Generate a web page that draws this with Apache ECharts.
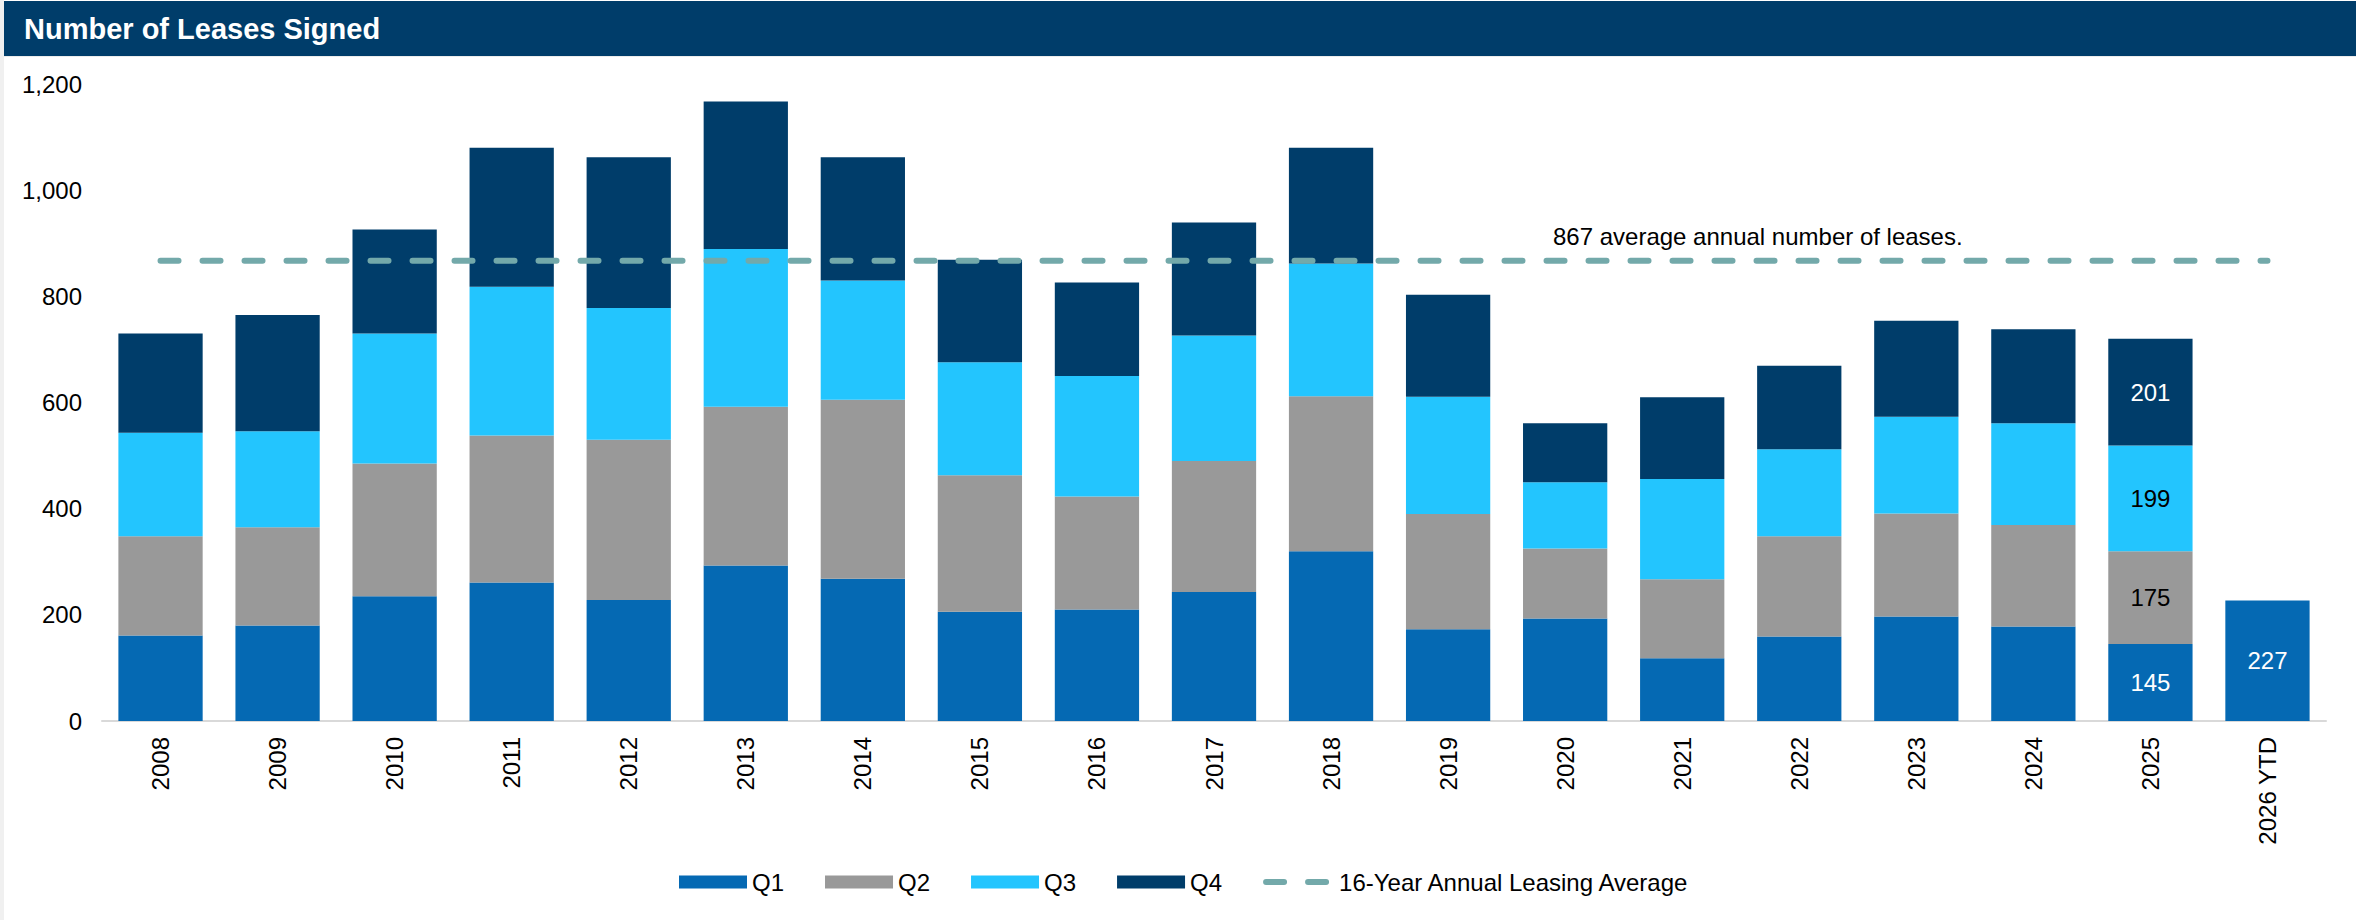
<!DOCTYPE html>
<html>
<head>
<meta charset="utf-8">
<title>Number of Leases Signed</title>
<script src="https://cdn.jsdelivr.net/npm/echarts@6/dist/echarts.min.js"></script>
<style>
  html, body { margin: 0; padding: 0; background: #fff; }
  #chart { width: 2356px; height: 920px; }
</style>
</head>
<body>
<div id="chart"></div>
<script>
// values
var years = ['2008', '2009', '2010', '2011', '2012', '2013', '2014', '2015', '2016', '2017',
             '2018', '2019', '2020', '2021', '2022', '2023', '2024', '2025', '2026 YTD']
var q1 = [161, 180, 235, 261, 228, 293, 268, 206, 210, 243, 320, 173, 193, 118, 159, 197, 178, 145, 227]
var q2 = [187, 185, 250, 277, 302, 299, 337, 257, 213, 247, 292, 217, 132, 149, 189, 194, 191, 175, null]
var q3 = [195, 181, 245, 280, 248, 297, 225, 213, 227, 236, 250, 221, 125, 189, 164, 182, 192, 199, null]
var q4 = [187, 219, 196, 262, 284, 278, 232, 193, 176, 213, 218, 192, 111, 154, 157, 181, 177, 201, null]
var avgLine = [['2008', 867], ['2026 YTD', 867]]
var yTicks = { min: 0, max: 1200, interval: 200 }
var labeledYears = ['2025', '2026 YTD']

var font = "'Liberation Sans', Arial, sans-serif"
var avgDash = { color: '#73a9aa', width: 6, type: [18, 24], cap: 'round' }

// only the last two bars carry value labels
function withLabels (arr) {
  return arr.map(function (v, i) {
    if (labeledYears.indexOf(years[i]) >= 0 && v != null) {
      return { value: v, label: { show: true } }
    }
    return v
  })
}

function barSeries (name, data, color, labelColor) {
  return {
    name: name,
    type: 'bar',
    stack: 'leases',
    barCategoryGap: '28%',
    data: withLabels(data),
    itemStyle: { color: color },
    label: {
      show: false,
      position: 'inside',
      color: labelColor,
      fontSize: 24,
      fontFamily: font
    },
    emphasis: { disabled: true }
  }
}

var myChart = echarts.init(document.getElementById('chart'), null, { renderer: 'svg' })

myChart.setOption({
  animation: false,
  textStyle: { fontFamily: font, color: '#000' },
  graphic: [
    { type: 'rect', shape: { x: 0, y: 0, width: 4, height: 920 }, style: { fill: '#f0f0f0' } },
    { type: 'rect', shape: { x: 4, y: 1, width: 2352, height: 55 }, style: { fill: '#003d6a' } },
    { type: 'rect', shape: { x: 4, y: 56, width: 2352, height: 1 }, style: { fill: '#ececec' } },
    {
      type: 'text', x: 24, y: 29,
      style: {
        text: 'Number of Leases Signed', fill: '#fff',
        font: 'bold 29px ' + font, textVerticalAlign: 'middle'
      }
    },
    {
      type: 'text', x: 1553, y: 236,
      style: {
        text: '867 average annual number of leases.', fill: '#000',
        font: '24px ' + font, textVerticalAlign: 'middle'
      }
    }
  ],
  grid: { left: 102, right: 30, top: 84, bottom: 199 },
  legend: {
    left: 679,
    top: 870,
    padding: 0,
    itemWidth: 68,
    itemHeight: 13,
    itemGap: 41,
    textStyle: { fontSize: 24, fontFamily: font, color: '#000' },
    data: [
      { name: 'Q1', icon: 'rect' },
      { name: 'Q2', icon: 'rect' },
      { name: 'Q3', icon: 'rect' },
      { name: 'Q4', icon: 'rect' },
      {
        name: '16-Year Annual Leasing Average',
        itemStyle: { opacity: 0 },
        lineStyle: avgDash
      }
    ]
  },
  xAxis: {
    type: 'category',
    data: years,
    axisLine: { lineStyle: { color: '#d9d9d9', width: 2 } },
    axisTick: { show: false },
    axisLabel: { rotate: 90, fontSize: 24, margin: 16, color: '#000', fontFamily: font }
  },
  yAxis: {
    type: 'value',
    min: yTicks.min,
    max: yTicks.max,
    interval: yTicks.interval,
    axisLine: { show: false },
    axisTick: { show: false },
    splitLine: { show: false },
    axisLabel: { fontSize: 24, margin: 20, color: '#000', fontFamily: font }
  },
  series: [
    barSeries('Q1', q1, '#0569b3', '#fff'),
    barSeries('Q2', q2, '#999999', '#000'),
    barSeries('Q3', q3, '#23c5fe', '#000'),
    barSeries('Q4', q4, '#003d6a', '#fff'),
    {
      name: '16-Year Annual Leasing Average',
      type: 'line',
      data: avgLine,
      symbol: 'none',
      z: 5,
      lineStyle: avgDash,
      itemStyle: { color: '#73a9aa' },
      emphasis: { disabled: true }
    }
  ]
})
</script>
</body>
</html>
